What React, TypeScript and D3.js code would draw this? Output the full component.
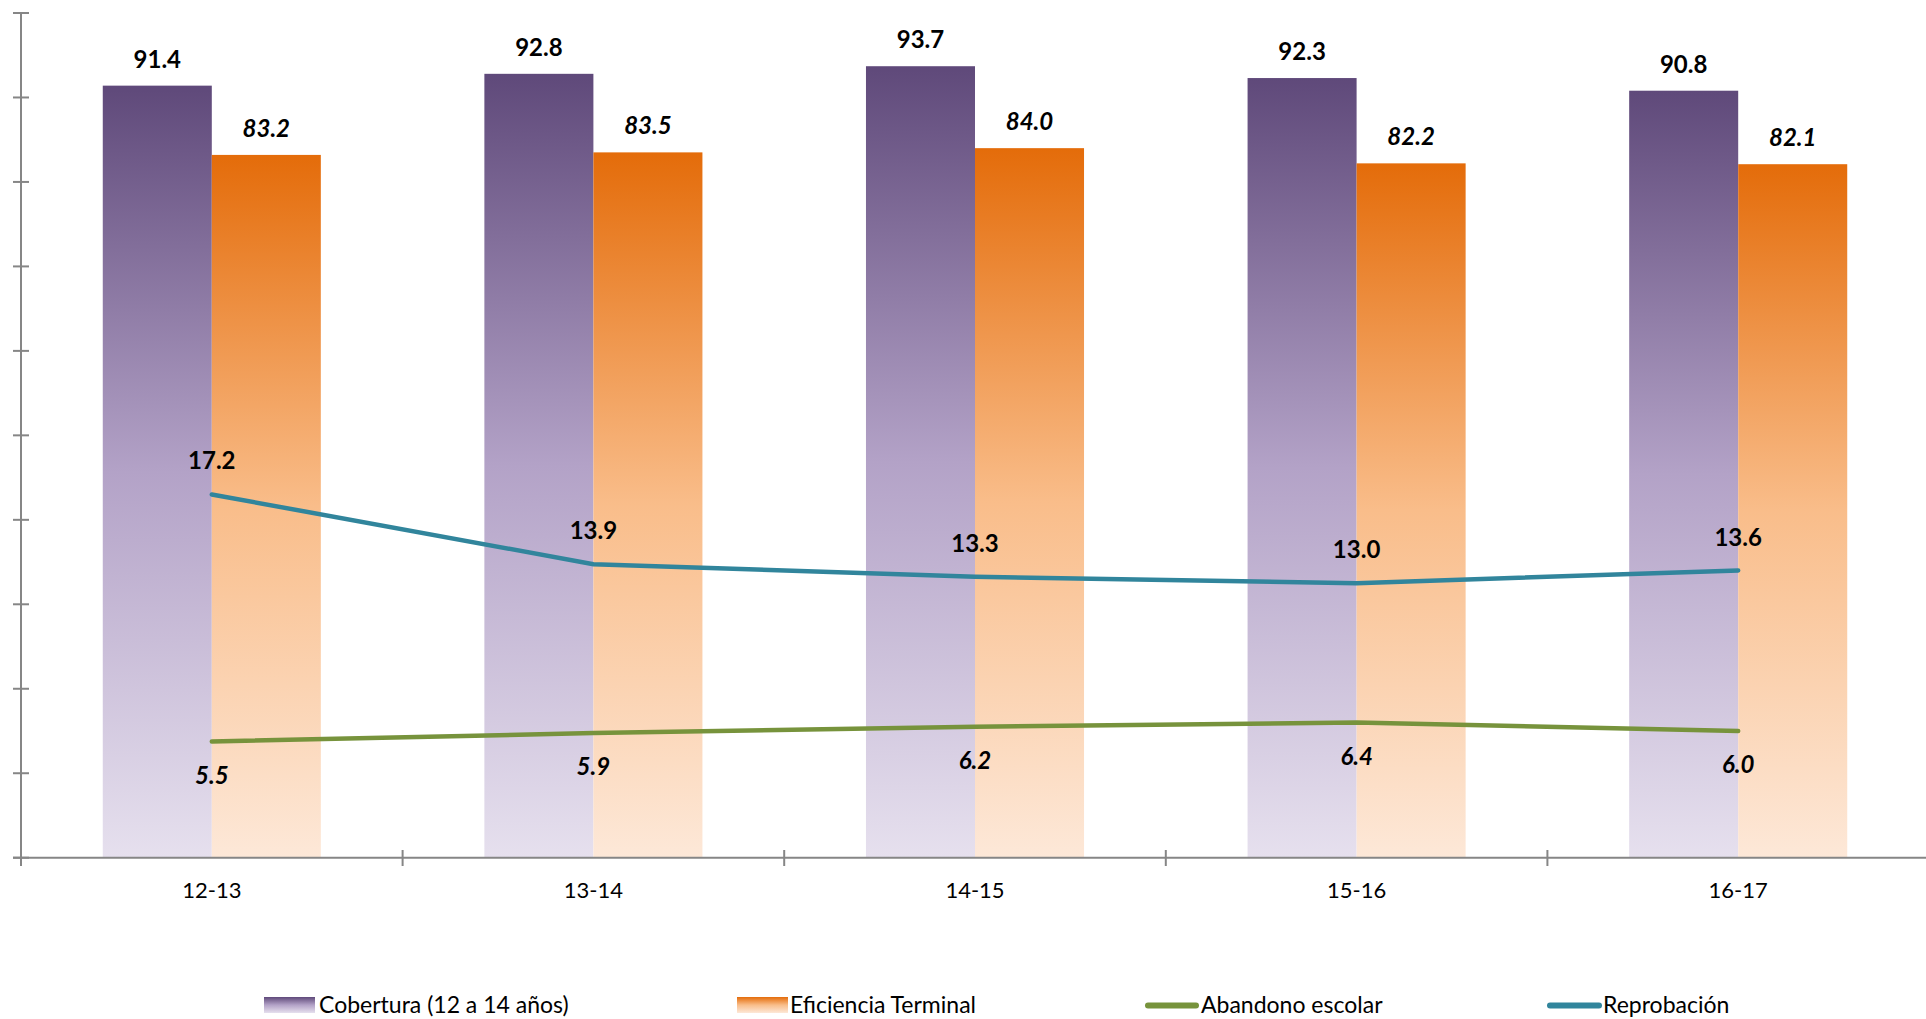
import React from "react";
import * as d3 from "d3";

const categories = ["12-13", "13-14", "14-15", "15-16", "16-17"];
const cobertura = [91.4, 92.8, 93.7, 92.3, 90.8];
const eficiencia = [83.2, 83.5, 84.0, 82.2, 82.1];
const abandono = [5.5, 5.9, 6.2, 6.4, 6.0];
const reprobacion = [17.2, 13.9, 13.3, 13.0, 13.6];
const primaryTicks = d3.range(0, 101, 10);
const legendItems = ["Cobertura (12 a 14 años)", "Eficiencia Terminal", "Abandono escolar", "Reprobación"];

const W = 1926;
const H = 1019;
const left = 21;
const catW = 381.6;
const top = 13;
const bottom = 857.7;
const font = "Lato, 'Open Sans', sans-serif";
const axisColor = "#868686";

export default function App() {
  const x = d3.scaleBand<string>().domain(categories).range([left, left + catW * categories.length]).padding(0);
  const yP = d3.scaleLinear().domain([0, 100]).range([bottom, top]);
  const yS = d3.scaleLinear().domain([0, 40]).range([bottom, top]);
  const barW = x.bandwidth() / 3.5;
  const cx = (c: string) => (x(c) as number) + x.bandwidth() / 2;

  const line = (vals: number[]) =>
    d3.line<number>().x((_, i) => cx(categories[i])).y((v) => yS(v))(vals) as string;

  return (
    <svg width={W} height={H} style={{ position: "fixed", left: 0, top: 0 }} fontFamily={font}>
      <defs>
        <linearGradient id="gP" x1="0" y1="0" x2="0" y2="1">
          <stop offset="0" stopColor="#5f497a" />
          <stop offset="0.5" stopColor="#b3a2c7" />
          <stop offset="1" stopColor="#e6e0ee" />
        </linearGradient>
        <linearGradient id="gO" x1="0" y1="0" x2="0" y2="1">
          <stop offset="0" stopColor="#e46c0a" />
          <stop offset="0.5" stopColor="#f9bd8a" />
          <stop offset="1" stopColor="#fde8d8" />
        </linearGradient>
      </defs>
      <rect width={W} height={H} fill="#fff" />
      {categories.map((c, i) => (
        <g key={c}>
          <rect x={cx(c) - barW} y={yP(cobertura[i])} width={barW} height={bottom - yP(cobertura[i])} fill="url(#gP)" />
          <rect x={cx(c)} y={yP(eficiencia[i])} width={barW} height={bottom - yP(eficiencia[i])} fill="url(#gO)" />
        </g>
      ))}
      {/* axes */}
      <line x1={left} x2={left} y1={top} y2={866} stroke={axisColor} strokeWidth={2} />
      {primaryTicks.map((t) => (
        <line key={t} x1={left - 8} x2={left + 8} y1={yP(t)} y2={yP(t)} stroke={axisColor} strokeWidth={2} />
      ))}
      <line x1={left - 8} x2={W} y1={bottom} y2={bottom} stroke={axisColor} strokeWidth={2} />
      {categories.map((c) => (
        <line key={c} x1={(x(c) as number) + x.bandwidth()} x2={(x(c) as number) + x.bandwidth()} y1={850} y2={866} stroke={axisColor} strokeWidth={2} />
      ))}
      {categories.map((c) => (
        <text key={c} x={cx(c)} y={898} textAnchor="middle" fontSize={22} fill="#000">{c}</text>
      ))}
      {/* lines */}
      <path d={line(reprobacion)} fill="none" stroke="#31859c" strokeWidth={4.5} strokeLinecap="round" />
      <path d={line(abandono)} fill="none" stroke="#77933c" strokeWidth={4.5} strokeLinecap="round" />
      {/* labels */}
      {categories.map((c, i) => (
        <g key={c} fontSize={24} fontWeight="bold" fill="#000" textAnchor="middle">
          <text x={cx(c) - barW / 2} y={yP(cobertura[i]) - 18}>{cobertura[i].toFixed(1)}</text>
          <text x={cx(c) + barW / 2} y={yP(eficiencia[i]) - 18} fontStyle="italic">{eficiencia[i].toFixed(1)}</text>
          <text x={cx(c)} y={yS(reprobacion[i]) - 25}>{reprobacion[i].toFixed(1)}</text>
          <text x={cx(c)} y={yS(abandono[i]) + 42} fontStyle="italic">{abandono[i].toFixed(1)}</text>
        </g>
      ))}
      {/* legend */}
      <g fontSize={23} fill="#000">
        <rect x={264} y={997} width={51} height={16} fill="url(#gP)" />
        <text x={319} y={1013}>{legendItems[0]}</text>
        <rect x={737} y={997} width={51} height={16} fill="url(#gO)" />
        <text x={790} y={1013}>{legendItems[1]}</text>
        <line x1={1148} x2={1196} y1={1005.5} y2={1005.5} stroke="#77933c" strokeWidth={6} strokeLinecap="round" />
        <text x={1201} y={1013}>{legendItems[2]}</text>
        <line x1={1550} x2={1599} y1={1005.5} y2={1005.5} stroke="#31859c" strokeWidth={6} strokeLinecap="round" />
        <text x={1603} y={1013}>{legendItems[3]}</text>
      </g>
    </svg>
  );
}
